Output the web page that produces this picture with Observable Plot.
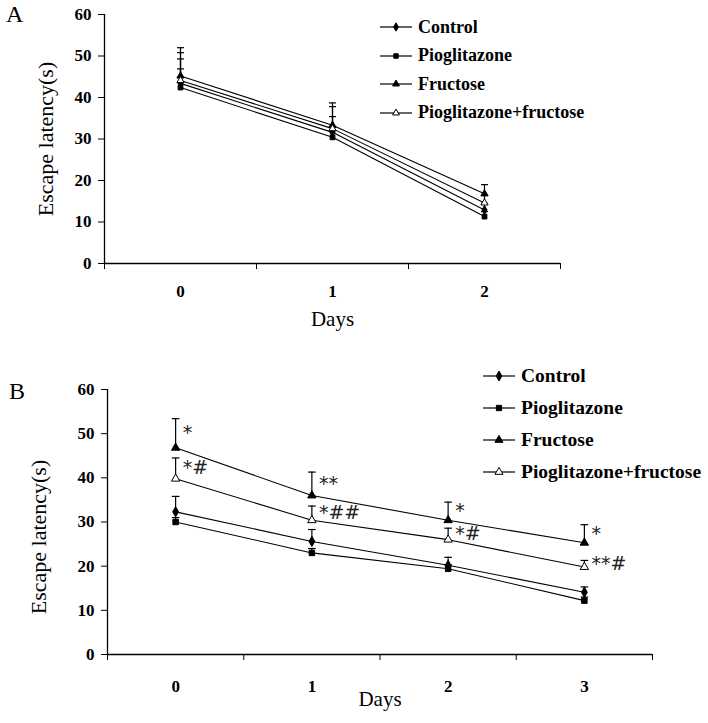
<!DOCTYPE html>
<html>
<head>
<meta charset="utf-8">
<script src="https://cdn.jsdelivr.net/npm/d3@7"></script>
<script src="https://cdn.jsdelivr.net/npm/@observablehq/plot@0.6"></script>
<style>
  html, body { margin: 0; padding: 0; background: white; }
  #wrap { position: relative; width: 708px; height: 723px; overflow: hidden; font-family: "Liberation Serif", serif; }
  .panel { position: absolute; left: 0; }
  .plabel { position: absolute; font-size: 24px; font-family: "Liberation Serif", serif; }
  .legend { position: absolute; font-weight: bold; font-family: "Liberation Serif", serif; }
  .legrow { position: absolute; left: 0; display: flex; align-items: center; white-space: nowrap; }
  .legrow svg { display: block; }
</style>
</head>
<body>
<div id="wrap"></div>
<script>
// ---------- data ----------
const seriesNames = ["Control", "Pioglitazone", "Fructose", "Pioglitazone+fructose"];
const seriesSymbols = ["diamond", "square", "triangle", "triangle"];
const seriesFills = ["black", "black", "black", "white"];

// Panel A
const daysA = [0, 1, 2];
const controlA = [43.4, 31.6, 12.9];
const controlErrA = [49.3, 35.4, 14.5];
const pioA = [42.4, 30.4, 11.3];
const pioErrA = [46.9, 32.0, 12.5];
const fructoseA = [45.2, 33.3, 16.8];
const fructoseErrA = [52.0, 38.7, 19.0];
const pioFructoseA = [44.1, 32.5, 14.6];
const pioFructoseErrA = [50.8, 37.8, 16.5];

// Panel B
const daysB = [0, 1, 2, 3];
const controlB = [32.3, 25.6, 20.2, 14.1];
const controlErrB = [35.8, 28.3, 22.0, 15.3];
const pioB = [30.0, 23.0, 19.4, 12.2];
const pioErrB = [31.0, 24.0, 20.3, 13.0];
const fructoseB = [46.8, 36.0, 30.4, 25.3];
const fructoseErrB = [53.4, 41.3, 34.5, 29.4];
const pioFructoseB = [39.8, 30.4, 26.0, 19.8];
const pioFructoseErrB = [44.5, 33.6, 28.6, 21.3];
const fructoseSigB = ["*", "**", "*", "*"];
const pioFructoseSigB = ["*#", "*##", "*#", "**#"];

const yTicks = [0, 10, 20, 30, 40, 50, 60];
const yLabel = "Escape latency(s)";
const xLabel = "Days";

// ---------- helpers ----------
function buildRows(days, values, errs) {
  const rows = [];
  seriesNames.forEach((name, i) => {
    days.forEach((d, j) => rows.push({series: name, day: d, value: values[i][j], err: errs[i][j]}));
  });
  return rows;
}
const capSymbol = {
  draw(context, size) {
    const r = Math.sqrt(size / Math.PI);
    context.moveTo(-r, 0);
    context.lineTo(r, 0);
  }
};

function makePanel(opts) {
  const {days, rows, ann, width, height, mL, mR, mT, mB, r, capR, tickPad, daysDy, ylDx, ylDy, tickFont} = opts;
  const lo = days[0] - 0.5, hi = days[days.length - 1] + 0.5;
  const bounds = d3.range(days.length + 1).map(i => lo + i);
  const marks = [
    Plot.ruleY([0], {x1: lo, x2: hi, stroke: "black", strokeWidth: 1.3}),
    Plot.ruleX([lo], {y1: 0, y2: 60, stroke: "black", strokeWidth: 1.3}),
    Plot.axisY({ticks: yTicks, tickSize: 6, tickPadding: 7, fontSize: tickFont, fontWeight: "bold", label: null}),
    Plot.axisX({ticks: bounds, tickSize: 6, tickFormat: () => "", label: null}),
    Plot.axisX({ticks: days, tickSize: 0, tickPadding: tickPad, tickFormat: d3.format("d"), fontSize: tickFont, fontWeight: "bold", label: null}),
    Plot.text([yLabel], {frameAnchor: "left", textAnchor: "middle", rotate: -90, dx: ylDx, dy: ylDy, fontSize: 22}),
    Plot.text([xLabel], {frameAnchor: "bottom", dy: daysDy, fontSize: 21}),
    Plot.line(rows, {x: "day", y: "value", z: "series", stroke: "black", strokeWidth: 1.1}),
    Plot.ruleX(rows, {x: "day", y1: "value", y2: "err", stroke: "black", strokeWidth: 1.2}),
    Plot.dot(rows, {x: "day", y: "err", symbol: capSymbol, r: capR, stroke: "black", strokeWidth: 1.2, fill: "none"}),
    Plot.dot(rows, {x: "day", y: "value", symbol: "series", fill: "series", stroke: "black", strokeWidth: 1, r: r})
  ];
  if (ann) {
    marks.push(Plot.text(ann, {x: "day", y: d => (d.value + d.err) / 2, text: "label", textAnchor: "start", dx: 7,
      fontFamily: "DejaVu Sans", fontSize: 19, fill: "#222", letterSpacing: 1}));
  }
  return Plot.plot({
    width, height, marginLeft: mL, marginRight: mR, marginTop: mT, marginBottom: mB,
    x: {domain: [lo, hi]},
    y: {domain: [0, 60]},
    symbol: {domain: seriesNames, range: seriesSymbols},
    color: {domain: seriesNames, range: seriesFills},
    style: {fontFamily: "Liberation Serif, serif", color: "black", background: "white", overflow: "visible"},
    marks
  });
}

function makeLegend(left, top, spacing, fontSize, symSize) {
  const div = document.createElement("div");
  div.className = "legend";
  div.style.left = left + "px";
  div.style.top = top + "px";
  div.style.fontSize = fontSize + "px";
  const symMap = {diamond: d3.symbolDiamond, square: d3.symbolSquare, triangle: d3.symbolTriangle};
  seriesNames.forEach((name, i) => {
    const row = document.createElement("div");
    row.className = "legrow";
    row.style.top = (i * spacing) + "px";
    row.style.height = "0px";
    const svg = d3.create("svg").attr("width", 38).attr("height", 20);
    svg.append("line").attr("x1", 0).attr("x2", 32).attr("y1", 10).attr("y2", 10).attr("stroke", "black").attr("stroke-width", 1.2);
    svg.append("path").attr("transform", "translate(16,10)")
      .attr("d", d3.symbol(symMap[seriesSymbols[i]], symSize)())
      .attr("fill", seriesFills[i]).attr("stroke", "black").attr("stroke-width", 1);
    row.appendChild(svg.node());
    const span = document.createElement("span");
    span.textContent = name;
    row.appendChild(span);
    div.appendChild(row);
  });
  return div;
}

// ---------- build ----------
const wrap = document.getElementById("wrap");

const rowsA = buildRows(daysA, [controlA, pioA, fructoseA, pioFructoseA], [controlErrA, pioErrA, fructoseErrA, pioFructoseErrA]);
const rowsB = buildRows(daysB, [controlB, pioB, fructoseB, pioFructoseB], [controlErrB, pioErrB, fructoseErrB, pioFructoseErrB]);
const annB = [];
daysB.forEach((d, j) => {
  annB.push({day: d, value: fructoseB[j], err: fructoseErrB[j], label: fructoseSigB[j]});
  annB.push({day: d, value: pioFructoseB[j], err: pioFructoseErrB[j], label: pioFructoseSigB[j]});
});

const plotA = makePanel({days: daysA, rows: rowsA, ann: null, width: 708, height: 345,
  mL: 104, mR: 148, mT: 14, mB: 82, r: 2.7, capR: 3.5, tickPad: 21, daysDy: 62, ylDx: -59, ylDy: 0, tickFont: 17});
const divA = document.createElement("div");
divA.className = "panel"; divA.style.top = "0px";
divA.appendChild(plotA);
wrap.appendChild(divA);

const plotB = makePanel({days: daysB, rows: rowsB, ann: annB, width: 708, height: 378,
  mL: 107, mR: 56, mT: 44, mB: 69, r: 3.1, capR: 3.8, tickPad: 25, daysDy: 51, ylDx: -69, ylDy: 15, tickFont: 17});
const divB = document.createElement("div");
divB.className = "panel"; divB.style.top = "345px";
divB.appendChild(plotB);
wrap.appendChild(divB);

const labA = document.createElement("div");
labA.className = "plabel"; labA.textContent = "A";
labA.style.left = "6px"; labA.style.top = "1px";
wrap.appendChild(labA);
const labB = document.createElement("div");
labB.className = "plabel"; labB.textContent = "B";
labB.style.left = "9px"; labB.style.top = "378px";
wrap.appendChild(labB);

wrap.appendChild(makeLegend(380, 27, 28.5, 18, 20));
wrap.appendChild(makeLegend(483, 376, 32, 19.5, 28));
</script>
</body>
</html>
